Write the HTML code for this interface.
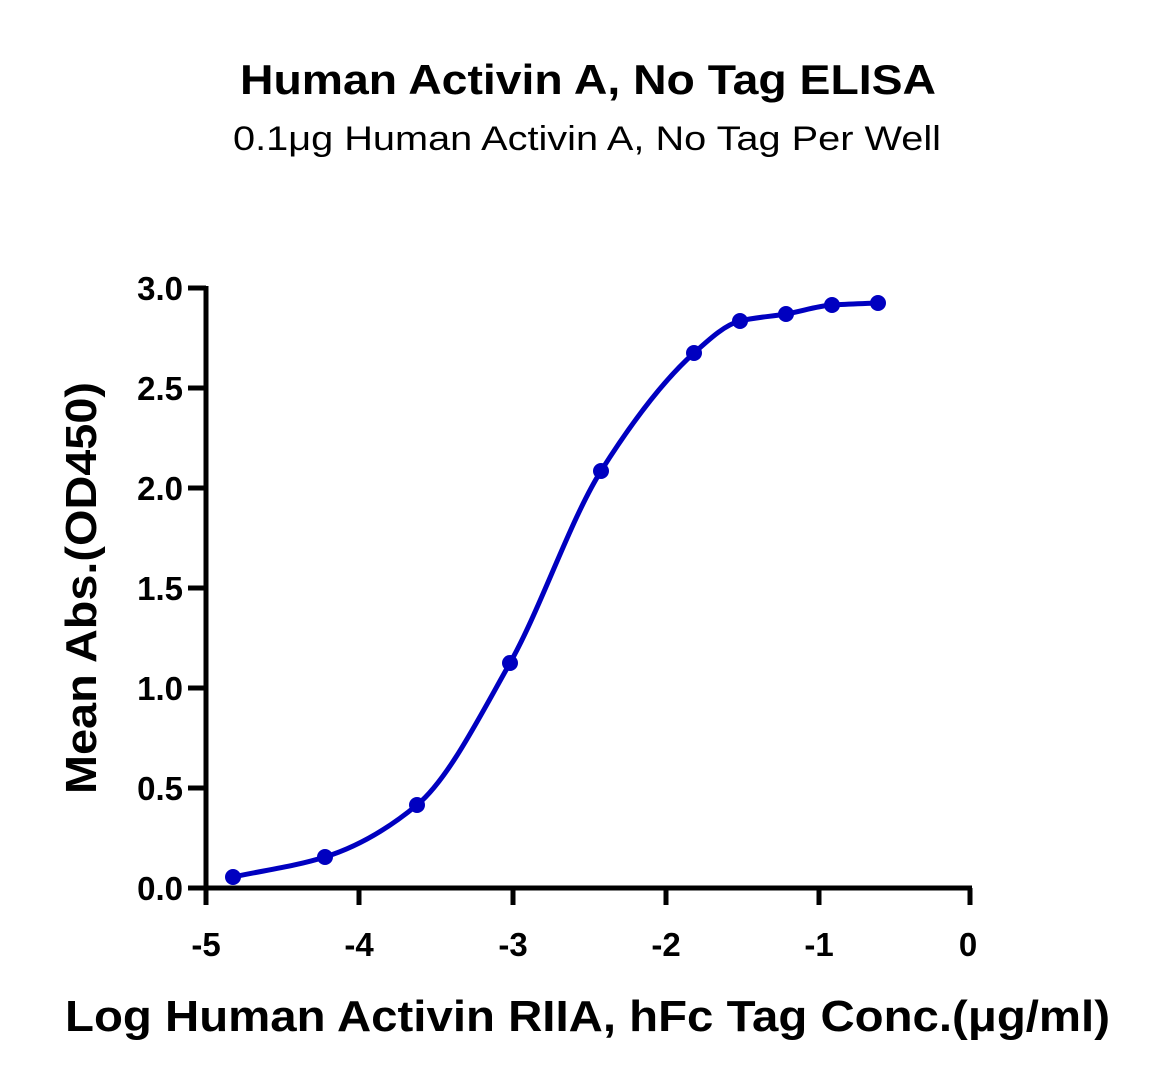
<!DOCTYPE html>
<html><head><style>
body{margin:0;background:#fff;}
svg text{font-family:"Liberation Sans",sans-serif;}
</style></head><body>
<svg width="1156" height="1087" viewBox="0 0 1156 1087" xmlns="http://www.w3.org/2000/svg">
<text x="240" y="94" font-size="42" font-weight="bold" textLength="696" lengthAdjust="spacingAndGlyphs">Human Activin A, No Tag ELISA</text>
<text x="233" y="150" font-size="34" textLength="708" lengthAdjust="spacingAndGlyphs">0.1μg Human Activin A, No Tag Per Well</text>
<g stroke="#000" stroke-width="5" fill="none">
<line x1="206" y1="286" x2="206" y2="890"/>
<line x1="188" y1="888" x2="972" y2="888"/>
<line x1="188" y1="288" x2="206" y2="288"/>
<line x1="188" y1="388" x2="206" y2="388"/>
<line x1="188" y1="488" x2="206" y2="488"/>
<line x1="188" y1="588" x2="206" y2="588"/>
<line x1="188" y1="688" x2="206" y2="688"/>
<line x1="188" y1="788" x2="206" y2="788"/>
<line x1="206" y1="888" x2="206" y2="905"/>
<line x1="359" y1="888" x2="359" y2="905"/>
<line x1="513" y1="888" x2="513" y2="905"/>
<line x1="666" y1="888" x2="666" y2="905"/>
<line x1="819" y1="888" x2="819" y2="905"/>
<line x1="970" y1="888" x2="970" y2="905"/>
</g>
<g font-size="33" font-weight="bold" text-anchor="end">
<text x="183" y="300">3.0</text><text x="183" y="400">2.5</text><text x="183" y="500">2.0</text>
<text x="183" y="600">1.5</text><text x="183" y="700">1.0</text><text x="183" y="800">0.5</text><text x="183" y="900">0.0</text>
</g>
<g font-size="33" font-weight="bold" text-anchor="middle">
<text x="206" y="956">-5</text><text x="359" y="956">-4</text><text x="513" y="956">-3</text>
<text x="666" y="956">-2</text><text x="819" y="956">-1</text><text x="968" y="956">0</text>
</g>
<text x="65" y="1031" font-size="44" font-weight="bold" textLength="1045" lengthAdjust="spacingAndGlyphs">Log Human Activin RIIA, hFc  Tag Conc.(μg/ml)</text>
<text transform="translate(96,588) rotate(-90)" text-anchor="middle" font-size="44" font-weight="bold" textLength="412" lengthAdjust="spacingAndGlyphs">Mean Abs.(OD450)</text>
<path id="curve" fill="none" stroke="#0000c0" stroke-width="5" d=""/>
<g fill="#0000c0" id="pts"></g>
</svg>
<script>
var p=[[233,877],[325,857],[417,805],[510,663],[601,471],[694,353],[740,321],[786,314],[832,305],[878,303]];
var n=p.length,dl=[],m=[];
for(var i=0;i<n-1;i++)dl.push((p[i+1][1]-p[i][1])/(p[i+1][0]-p[i][0]));
m[0]=dl[0];m[n-1]=dl[n-2];
for(var i=1;i<n-1;i++){m[i]=(dl[i-1]*dl[i]<=0)?0:2/(1/dl[i-1]+1/dl[i]);}
var d="M"+p[0][0]+","+p[0][1];
for(var i=0;i<n-1;i++){var h=(p[i+1][0]-p[i][0])/3;
d+=" C"+(p[i][0]+h)+","+(p[i][1]+m[i]*h)+" "+(p[i+1][0]-h)+","+(p[i+1][1]-m[i+1]*h)+" "+p[i+1][0]+","+p[i+1][1];}
document.getElementById("curve").setAttribute("d",d);
var g=document.getElementById("pts");
p.forEach(function(q){var c=document.createElementNS("http://www.w3.org/2000/svg","circle");c.setAttribute("cx",q[0]);c.setAttribute("cy",q[1]);c.setAttribute("r",8);g.appendChild(c);});
</script>
</body></html>
